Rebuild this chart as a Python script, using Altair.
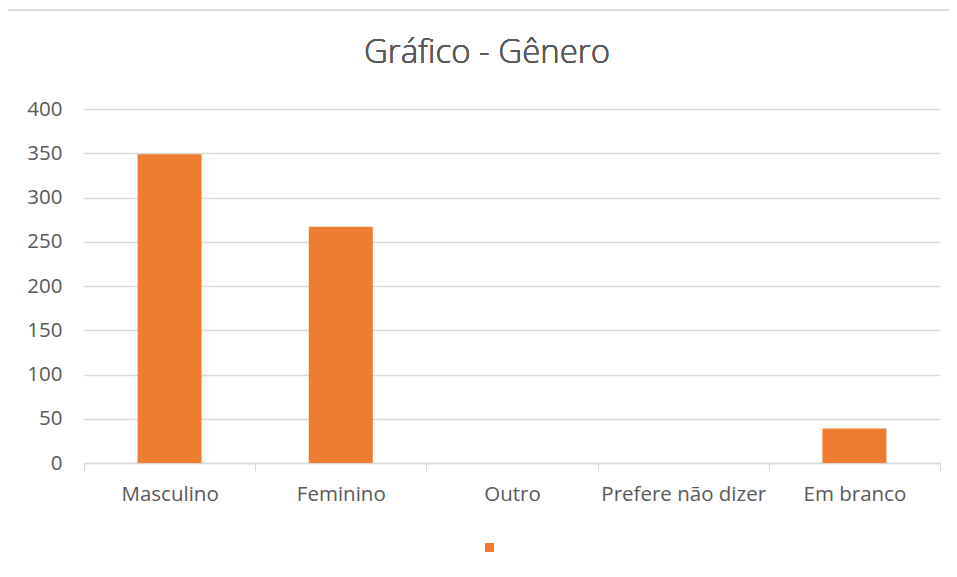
import altair as alt
import pandas as pd

categories = ["Masculino", "Feminino", "Outro", "Prefere não dizer", "Em branco"]
values = [349, 267, 0, 0, 39]
series = [" "] * 5
title_text = "Gráfico - Gênero"

df = pd.DataFrame({"categoria": categories, "valor": values, "serie": series})

FONT = "Open Sans"
GREY = "#595959"

bars = alt.Chart(df).mark_bar(width=64, color="#ED7D31").encode(
    x=alt.X("categoria:N", sort=categories, title=None,
            scale=alt.Scale(paddingInner=0, paddingOuter=0),
            axis=alt.Axis(labelAngle=0, tickBand="extent", tickSize=8, tickColor="#d9d9d9",
                          domainColor="#d9d9d9", domainWidth=1.5, labelFont=FONT, labelFontSize=20.5,
                          labelColor=GREY, labelPadding=13, grid=False)),
    y=alt.Y("valor:Q", title=None,
            scale=alt.Scale(domain=[0, 400], nice=False),
            axis=alt.Axis(values=[0, 50, 100, 150, 200, 250, 300, 350, 400], ticks=False, domain=False,
                          gridColor="#d9d9d9", gridWidth=1.3, labelFont=FONT, labelFontSize=20.5,
                          labelColor=GREY, labelPadding=22)),
    color=alt.Color("serie:N", scale=alt.Scale(range=["#ED7D31"]),
                    legend=alt.Legend(title=None, orient="none", legendX=401, legendY=434,
                                      symbolType="square", symbolSize=81, labelFontSize=1,
                                      symbolStrokeWidth=0, labelLimit=1)),
)

frame = alt.Chart(df).mark_rect(fill=None, stroke="#d9d9d9", strokeWidth=1.5, clip=False).encode(
    x=alt.value(-80), x2=alt.value(900), y=alt.value(-99), y2=alt.value(490)
)

title = alt.Chart(df).mark_text(font=FONT, fontSize=33, fontWeight=300, color=GREY, align="center",
                                baseline="alphabetic").encode(
    x=alt.value(403), y=alt.value(-46), text=alt.value(title_text)
)

chart = alt.layer(frame, bars, title).properties(
    width=856, height=354,
    padding={"left": 76, "top": 101, "right": 9, "bottom": 110},
    autosize=alt.AutoSizeParams(type="none"),
).configure_view(stroke=None)

chart.save("out.html", embed_options={"renderer": "svg", "actions": False})
